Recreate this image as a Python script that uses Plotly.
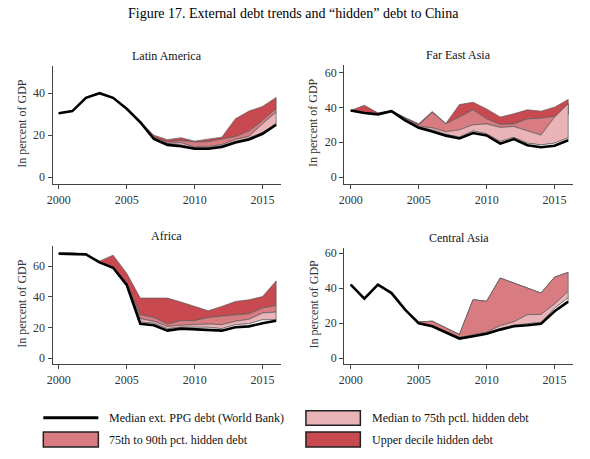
import plotly.graph_objects as go

years = list(range(2000, 2017))

# Latin America
la_ppg = [30.5, 31.5, 37.8, 40.0, 37.8, 32.6, 26.2, 18.2, 15.4, 14.8, 13.6, 13.6, 14.4, 16.5, 18.0, 20.7, 25.0]
la_med = [30.5, 31.5, 37.8, 40.0, 37.8, 32.6, 26.2, 18.4, 15.8, 15.3, 13.9, 14.0, 14.9, 17.0, 18.6, 21.3, 25.6]
la_p75 = [30.5, 31.5, 37.8, 40.0, 37.8, 32.6, 26.2, 18.6, 16.0, 16.5, 14.3, 14.6, 15.5, 18.0, 19.5, 25.5, 31.0]
la_p90 = [30.5, 31.5, 37.8, 40.0, 37.8, 32.6, 26.2, 18.9, 16.8, 17.5, 16.8, 16.9, 18.2, 19.4, 22.0, 27.0, 32.6]
la_top = [30.5, 31.5, 37.8, 40.0, 37.8, 32.6, 26.4, 20.0, 17.9, 18.8, 17.2, 18.2, 19.1, 27.8, 31.5, 33.7, 38.0]

# Far East Asia
fea_ppg = [38.2, 36.8, 36.0, 37.8, 32.5, 28.3, 26.2, 23.8, 22.2, 25.3, 23.9, 19.2, 21.8, 18.3, 17.2, 18.0, 21.2]
fea_med = [38.2, 36.8, 36.0, 37.8, 33.0, 28.8, 27.0, 24.5, 23.0, 26.5, 24.8, 20.5, 22.8, 19.5, 18.5, 19.5, 22.6]
fea_p75 = [38.2, 36.8, 36.0, 37.8, 33.2, 29.0, 28.3, 26.0, 27.1, 30.0, 30.5, 28.5, 29.0, 26.4, 24.1, 34.4, 42.0]
fea_p90 = [38.2, 36.8, 36.0, 37.8, 33.8, 29.8, 37.0, 30.6, 34.4, 38.6, 33.4, 30.2, 30.5, 33.4, 33.8, 34.7, 35.9]
fea_top = [38.2, 41.2, 36.8, 38.2, 34.2, 30.6, 37.6, 30.8, 41.6, 42.9, 39.1, 34.4, 36.3, 38.6, 37.8, 40.1, 44.5]

# Africa
af_ppg = [68.0, 68.0, 67.6, 62.4, 58.9, 47.7, 22.4, 21.4, 17.9, 19.2, 18.8, 18.3, 17.9, 20.1, 20.7, 22.7, 24.4]
af_med = [68.0, 68.0, 67.6, 62.4, 58.9, 48.0, 23.5, 22.7, 19.2, 20.1, 20.1, 20.1, 19.2, 21.8, 22.4, 25.0, 25.0]
af_p75 = [68.0, 68.0, 67.6, 62.4, 58.9, 48.3, 25.7, 24.0, 20.7, 21.4, 21.8, 22.2, 21.8, 24.0, 25.3, 29.4, 30.0]
af_p90 = [68.0, 68.0, 67.6, 62.4, 58.9, 48.8, 28.3, 26.5, 22.2, 24.4, 24.4, 26.5, 27.2, 28.3, 28.9, 32.6, 34.3]
af_top = [68.8, 68.6, 67.6, 63.2, 67.1, 55.3, 39.1, 39.1, 39.1, 36.5, 33.9, 30.9, 33.7, 36.9, 38.0, 40.1, 50.3]

# Central Asia
ca_ppg = [42.0, 34.0, 42.0, 37.2, 27.7, 19.9, 18.2, 14.8, 11.2, 12.5, 13.9, 16.3, 18.2, 18.8, 19.6, 26.8, 32.3]
ca_med = [42.0, 34.0, 42.0, 37.2, 27.7, 19.9, 18.2, 14.8, 11.4, 12.8, 14.2, 16.8, 18.8, 19.5, 20.5, 28.5, 34.5]
ca_p75 = [42.0, 34.0, 42.0, 37.2, 27.7, 19.9, 18.2, 14.8, 11.8, 13.3, 14.8, 18.6, 20.8, 24.8, 25.0, 31.0, 38.2]
ca_p90 = [42.0, 34.0, 42.0, 37.2, 27.7, 20.7, 21.1, 17.3, 13.5, 33.4, 32.5, 45.8, 42.9, 40.1, 37.2, 46.3, 49.0]
ca_top = [42.0, 34.0, 42.0, 37.2, 27.7, 20.7, 21.1, 17.3, 13.5, 33.4, 32.5, 45.8, 42.9, 40.1, 37.2, 46.3, 49.0]

panel_titles = ["Latin America", "Far East Asia", "Africa", "Central Asia"]
x_ticks = [2000, 2005, 2010, 2015]
y_ticks_la = [0, 20, 40]
y_ticks_other = [0, 20, 40, 60]
legend_labels = ["Median ext. PPG debt (World Bank)", "Median to 75th pctl. hidden debt",
                 "75th to 90th pct. hidden debt", "Upper decile hidden debt"]
fig_title = "Figure 17. External debt trends and \u201chidden\u201d debt to China"

C_DARK = "#C8494F"
C_MED = "#D97C82"
C_LIGHT = "#EAB3B7"
OUT = "#5a5a5a"
FONT = "Liberation Serif, Times New Roman, serif"
W, H = 590, 459
DX = -5


def px(x):
    return (x + DX) / W


def py(y):
    return 1 - y / H


panels = [
    dict(data=(la_ppg, la_med, la_p75, la_p90, la_top), ax="", title=panel_titles[0],
         xdom=(52, 283), xr=(1999.54, 2016.37), ydom=(184, 65), yr=(-3.3, 53.1), yt=y_ticks_la),
    dict(data=(fea_ppg, fea_med, fea_p75, fea_p90, fea_top), ax="2", title=panel_titles[1],
         xdom=(346.7, 578.3), xr=(1999.52, 2016.39), ydom=(184, 64), yr=(-4.0, 64.4), yt=y_ticks_other),
    dict(data=(af_ppg, af_med, af_p75, af_p90, af_top), ax="3", title=panel_titles[2],
         xdom=(52, 283), xr=(1999.54, 2016.37), ydom=(365, 245.7), yr=(-4.1, 73.3), yt=y_ticks_other),
    dict(data=(ca_ppg, ca_med, ca_p75, ca_p90, ca_top), ax="4", title=panel_titles[3],
         xdom=(346.7, 578.3), xr=(1999.52, 2016.39), ydom=(365, 247.7), yr=(-3.6, 63.2), yt=y_ticks_other),
]

fig = go.Figure()
layout = {}
annotations = []


def band(lower, upper, color, xa, ya):
    xs = years + years[::-1]
    ys = list(upper) + list(lower)[::-1]
    return go.Scatter(x=xs, y=ys, mode="lines", fill="toself", fillcolor=color,
                      line=dict(color=OUT, width=0.7), xaxis=xa, yaxis=ya,
                      hoverinfo="skip", showlegend=False)


for p in panels:
    ppg, med, p75, p90, top = p["data"]
    xa, ya = "x" + p["ax"], "y" + p["ax"]
    fig.add_trace(band(p90, top, C_DARK, xa, ya))
    fig.add_trace(band(p75, p90, C_MED, xa, ya))
    fig.add_trace(band(med, p75, C_LIGHT, xa, ya))
    fig.add_trace(band(ppg, med, "#ffffff", xa, ya))
    fig.add_trace(go.Scatter(x=years, y=ppg, mode="lines", line=dict(color="#000000", width=2.6),
                             xaxis=xa, yaxis=ya, hoverinfo="skip", showlegend=False))
    axis_common = dict(showline=True, linecolor="#444", linewidth=1, ticks="outside", ticklen=4,
                       tickcolor="#444", tickwidth=1, showgrid=False, zeroline=False,
                       tickfont=dict(family=FONT, size=12, color="#333"))
    layout["xaxis" + p["ax"]] = dict(domain=[px(p["xdom"][0]), px(p["xdom"][1])], range=list(p["xr"]),
                                     anchor=ya, tickvals=x_ticks, **axis_common)
    layout["yaxis" + p["ax"]] = dict(domain=[py(p["ydom"][0]), py(p["ydom"][1])], range=list(p["yr"]),
                                     anchor=xa, tickvals=p["yt"], **axis_common)
    cx = (p["xdom"][0] + p["xdom"][1]) / 2
    annotations.append(dict(x=px(cx), y=py(p["ydom"][1] - 10), xref="paper", yref="paper",
                            text=p["title"], showarrow=False, xanchor="center", yanchor="middle",
                            font=dict(family=FONT, size=12, color="#111")))
    annotations.append(dict(x=px(p["xdom"][0] - 31), y=py((p["ydom"][0] + p["ydom"][1]) / 2 - 2),
                            xref="paper", yref="paper", text="In percent of GDP", textangle=-90,
                            showarrow=False, xanchor="center", yanchor="middle",
                            font=dict(family=FONT, size=12, color="#333")))

annotations.append(dict(x=px(295), y=py(13), xref="paper", yref="paper", text=fig_title,
                        showarrow=False, xanchor="center", yanchor="middle",
                        font=dict(family=FONT, size=14, color="#000")))

# legend (drawn manually)
shapes = []
shapes.append(dict(type="line", xref="paper", yref="paper", x0=px(42.7), x1=px(98.3),
                   y0=py(418.5), y1=py(418.5), line=dict(color="#000", width=3)))
for (x0, x1, y0, y1, col) in [(308, 363, 411.5, 426, C_LIGHT), (42.7, 98.3, 433, 448, C_MED),
                              (308, 363, 433, 448, C_DARK)]:
    shapes.append(dict(type="rect", xref="paper", yref="paper", x0=px(x0), x1=px(x1),
                       y0=py(y1), y1=py(y0), fillcolor=col, line=dict(color="#222", width=1.5)))
for (tx, ty, t) in [(107, 418.5, legend_labels[0]), (373, 418.5, legend_labels[1]),
                    (107, 440.5, legend_labels[2]), (373, 440.5, legend_labels[3])]:
    annotations.append(dict(x=px(tx), y=py(ty), xref="paper", yref="paper", text=t, showarrow=False,
                            xanchor="left", yanchor="middle", font=dict(family=FONT, size=12, color="#111")))

fig.update_layout(width=W, height=H, margin=dict(l=0, r=0, t=0, b=0), paper_bgcolor="white",
                  plot_bgcolor="white", showlegend=False, annotations=annotations, shapes=shapes,
                  **layout)
fig.write_html("out.html", config={"displayModeBar": False},
               post_script="document.body.style.margin='0px';document.body.style.overflow='hidden';")
